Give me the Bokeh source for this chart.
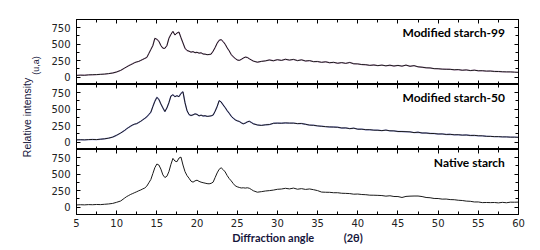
import math
from bokeh.plotting import figure
from bokeh.models import (LinearAxis, FixedTicker, Range1d, Label, ColumnDataSource,
                          CustomLabelingPolicy)
from bokeh.layouts import column, row
from bokeh.core.properties import value
from bokeh.embed import file_html
from bokeh.resources import INLINE

# ---------------- data ----------------
angle = [
    5.0, 5.5, 6.0, 6.5, 7.0, 7.5, 8.0, 8.5, 9.0, 9.5, 10.0, 10.5, 11.0,
    11.25, 11.5, 11.75,
    12.0, 12.25, 12.5, 12.75, 13.0, 13.25, 13.5, 13.75,
    14.0, 14.25, 14.5, 14.75, 15.0, 15.25, 15.5, 15.75,
    16.0, 16.25, 16.5, 16.75, 17.0, 17.25, 17.5, 17.75,
    18.0, 18.25, 18.5, 18.75, 19.0, 19.25, 19.5, 19.75,
    20.0, 20.25, 20.5, 20.75, 21.0, 21.25, 21.5, 21.75,
    22.0, 22.25, 22.5, 22.75, 23.0, 23.25, 23.5, 23.75,
    24.0, 24.25, 24.5, 24.75, 25.0, 25.25, 25.5, 25.75,
    26.0, 26.25, 26.5, 26.75, 27.0,
    27.5, 28.0, 28.5, 29.0, 29.5, 30.0, 30.5, 31.0, 31.5, 32.0, 32.5,
    33.0, 33.5, 34.0, 34.5, 35.0, 35.5, 36.0, 36.5, 37.0, 37.5, 38.0,
    38.5, 39.0, 39.5, 40.0, 40.5, 41.0, 41.5, 42.0, 42.5, 43.0, 43.5,
    44.0, 44.5, 45.0, 45.5, 46.0, 46.5, 47.0, 47.5, 48.0, 48.5, 49.0,
    49.5, 50.0, 50.5, 51.0, 51.5, 52.0, 52.5, 53.0, 53.5, 54.0, 54.5,
    55.0, 55.5, 56.0, 56.5, 57.0, 57.5, 58.0, 58.5, 59.0, 59.5, 60.0,
]

modified_99 = [
    28, 32, 30, 36, 38, 40, 44, 48, 55, 64, 80, 104, 140,
    158, 175, 190,
    205, 222, 232, 240, 255, 270, 285, 300,
    360, 420, 480, 590, 575, 545, 480, 440,
    438, 480, 590, 650, 695, 640, 670, 685,
    600, 520, 440, 405, 395, 380, 388, 372,
    378, 365, 370, 352, 350, 342, 345, 350,
    395, 450, 515, 560, 570, 540, 500, 445,
    400, 345, 310, 285, 262, 255, 270, 290,
    305, 300, 280, 262, 245,
    228, 240, 248, 262, 250, 266, 255, 272, 260, 270, 252,
    264, 246, 252, 236, 238, 226, 234, 220, 226, 212, 222,
    210, 224, 204, 202, 192, 190, 180, 186, 176, 184, 173,
    182, 170, 179, 168, 184, 166, 176, 158, 152, 143, 141,
    130, 129, 123, 121, 120, 113, 116, 106, 111, 101, 107,
    98, 99, 93, 94, 88, 87, 83, 81, 81, 77, 74,
]

modified_50 = [
    36, 38, 36, 40, 42, 40, 46, 52, 62, 78, 106, 140, 180,
    205, 225, 245,
    262, 275, 282, 300, 318, 340, 362, 385,
    420, 455, 540, 620, 680, 650, 580, 520,
    465, 520, 600, 700, 720, 690, 705, 690,
    740, 765, 600, 480, 420, 405, 415, 430,
    422, 400, 410, 398, 402, 392, 395, 400,
    412, 470, 540, 630, 610, 565, 525, 478,
    440, 395, 365, 340, 325, 315, 295, 280,
    290, 308, 318, 300, 280,
    262, 255, 264, 268, 287, 290, 288, 293, 290, 290, 282,
    284, 272, 260, 257, 248, 242, 236, 232, 230, 227, 216,
    217, 206, 213, 198, 198, 190, 190, 183, 182, 176, 184,
    173, 172, 163, 162, 160, 157, 146, 152, 140, 140, 133,
    132, 125, 126, 118, 120, 113, 114, 108, 110, 103, 104,
    98, 97, 90, 89, 85, 85, 81, 81, 77, 77, 74,
]

native = [
    35, 38, 36, 40, 38, 42, 40, 45, 50, 58, 75, 95, 140,
    162, 178, 195,
    208, 222, 235, 250, 262, 278, 292, 320,
    370, 420, 510, 600, 655, 640, 578, 490,
    450, 470, 540, 650, 740, 700, 690, 745,
    760, 640, 540, 480, 440, 395, 380, 400,
    410, 392, 380, 372, 365, 358, 355, 362,
    380, 450, 520, 575, 598, 570, 535, 480,
    435, 400, 360, 325, 310, 300, 292, 295,
    290, 295, 288, 270, 250,
    228, 236, 246, 252, 260, 272, 276, 287, 278, 290, 273,
    282, 270, 277, 266, 252, 230, 227, 226, 220, 220, 212,
    210, 207, 198, 200, 193, 190, 183, 182, 180, 177, 168,
    174, 163, 162, 148, 164, 168, 170, 170, 162, 148, 144,
    133, 132, 123, 124, 116, 114, 106, 102, 93, 90, 80,
    80, 70, 72, 70, 72, 66, 74, 68, 77, 76, 78,
]

panel_names = ["Modified starch-99", "Modified starch-50", "Native starch"]
x_ticks = [5, 10, 15, 20, 25, 30, 35, 40, 45, 50, 55, 60]
y_ticks = [0, 250, 500, 750]
y_title = ["Relative intensity", "(u,a)"]
x_title = "Diffraction angle"
x_unit = "(2θ)"

assert len(angle) == len(modified_99) == len(modified_50) == len(native)

# ---------------- styling ----------------
TICK_FONT = "DejaVu Sans"
TICK_COLOR = "#222222"
TITLE_COLOR = "#16163c"
x_minor = [t + 2.5 for t in x_ticks[:-1]]
y_minor = [-125, 125, 375, 625, 875]

x_range = Range1d(5, 60)

HIDE_ALL = "for (const i of indices) indices.unset(i)"


def style_axis(ax, ticks, minor, show_labels):
    ax.ticker = FixedTicker(ticks=ticks, minor_ticks=minor)
    ax.axis_line_color = "black"
    ax.axis_line_width = 1
    ax.major_tick_in = 4
    ax.major_tick_out = 0
    ax.minor_tick_in = 3
    ax.minor_tick_out = 0
    ax.major_tick_line_color = "black"
    ax.minor_tick_line_color = "black"
    if show_labels:
        ax.major_label_text_font = TICK_FONT
        ax.major_label_text_font_size = "10px"
        ax.major_label_text_color = TICK_COLOR
    else:
        ax.major_label_text_font_size = "0px"
        ax.major_label_standoff = 0
        ax.major_label_policy = CustomLabelingPolicy(code=HIDE_ALL)


def make_panel(values, name, under_color, top_border, bottom_border, bottom_labels):
    p = figure(frame_width=442, frame_height=65,
               x_range=x_range, y_range=Range1d(-110, 875),
               output_backend="svg", toolbar_location=None,
               min_border_left=27, min_border_right=23,
               min_border_top=top_border, min_border_bottom=bottom_border,
               x_axis_location=None, y_axis_location=None)
    p.grid.visible = False
    p.outline_line_color = "black"
    p.outline_line_width = 1
    p.background_fill_color = "white"
    p.border_fill_color = "white"

    left = LinearAxis()
    style_axis(left, y_ticks, y_minor, True)
    left.major_label_standoff = 6
    p.add_layout(left, "left")

    right = LinearAxis()
    style_axis(right, y_ticks, y_minor, False)
    p.add_layout(right, "right")

    above = LinearAxis()
    style_axis(above, x_ticks, x_minor, False)
    p.add_layout(above, "above")

    below = LinearAxis()
    style_axis(below, x_ticks, x_minor, bottom_labels)
    if bottom_labels:
        below.major_label_standoff = 4
    p.add_layout(below, "below")

    src = ColumnDataSource(dict(x=angle, y=values))
    if under_color:
        p.line("x", "y", source=src, line_color=under_color, line_width=1.4, line_alpha=0.45)
    p.line("x", "y", source=src, line_color="#1a1a1a", line_width=1.0)

    p.add_layout(Label(x=58.3, y=680, text=name, text_align="right",
                       text_baseline="middle", text_font="Lato",
                       text_font_style="bold", text_font_size="12px",
                       text_color="black"))
    return p, below


p1, b1 = make_panel(modified_99, panel_names[0], "#9a4a9a", 19, 0, False)
p2, b2 = make_panel(modified_50, panel_names[1], "#2a35c8", 0, 0, False)
p3, b3 = make_panel(native, panel_names[2], None, 0, 36, True)

# x-axis title with a wide gap before the unit, as in the reference
b3.axis_label = x_title + "\u00a0" * 11 + x_unit
b3.axis_label_text_font = "Lato"
b3.axis_label_text_font_style = "bold"
b3.axis_label_text_font_size = "11px"
b3.axis_label_text_color = TITLE_COLOR
b3.axis_label_standoff = 1

# left strip holding the rotated y-axis title (canvas pixel coordinates)
side = figure(frame_width=48, frame_height=250,
              x_range=Range1d(0, 48), y_range=Range1d(250, 0),
              output_backend="svg", toolbar_location=None,
              min_border=0, x_axis_location=None, y_axis_location=None)
side.grid.visible = False
side.outline_line_color = None
side.text(x=[26], y=[117], text=[y_title[0]], angle=math.pi / 2,
          text_align="center", text_baseline="middle",
          text_font=value("Liberation Sans"), text_font_size="10.5px",
          text_color=TITLE_COLOR)
side.text(x=[35.5], y=[65], text=[y_title[1]], angle=math.pi / 2,
          text_align="center", text_baseline="middle",
          text_font=value("Liberation Sans"), text_font_size="9px",
          text_color=TITLE_COLOR)

layout = row(side, column(p1, p2, p3, spacing=0), spacing=0)
open("out.html", "w").write(file_html(layout, INLINE))
